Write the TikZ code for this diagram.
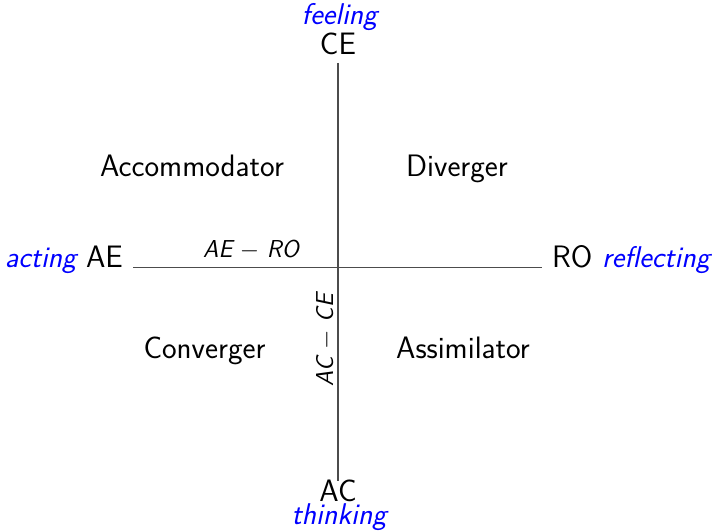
\documentclass[tikz,border=0pt]{standalone}
\usepackage{fontspec}
\begin{document}
\begin{tikzpicture}[x=1pt,y=1pt,
  big/.style={font=\fontsize{31}{36}\selectfont\sffamily, anchor=base, inner sep=0pt},
  small/.style={font=\fontsize{24.5}{28}\selectfont\sffamily\itshape, anchor=base, inner sep=0pt},
  mode/.style={big, text=blue, font=\fontsize{30}{36}\selectfont\sffamily\itshape},
  axis/.style={draw=black!70, line width=1.7pt}]
\useasboundingbox (0,0) rectangle (712,531);
% axis ends
\coordinate (top) at (338,468);
\coordinate (bot) at (338,50);
\coordinate (left) at (133,263.5);
\coordinate (right) at (542,263.5);
\draw[axis] (top) -- (bot);
\draw[axis] (left) -- (right);
% poles
\node[mode] (feeling) at (339.5,506) {feeling};
\node[big] (CE) at (338,476) {CE};
\node[big] (AC) at (338,30) {AC};
\node[mode] (thinking) at (339,7) {thinking};
\node[big, anchor=base east] (AE) at (123,264) {{\fontsize{30}{36}\selectfont\color{blue}\itshape acting} AE};
\node[big, anchor=base west] (RO) at (552,264) {RO {\fontsize{30}{36}\selectfont\color{blue}\itshape reflecting}};
% quadrants
\node[big] (acc) at (192,354) {Accommodator};
\node[big] (div) at (457,354) {Diverger};
\node[big] (conv) at (204.5,173) {Converger};
\node[big] (assim) at (463,173) {Assimilator};
% axis labels
\node[small] (aero) at (251,273) {AE $-$ RO};
\node[small, rotate=90] (acce) at (333,191) {AC $-$ CE};
\end{tikzpicture}
\end{document}
